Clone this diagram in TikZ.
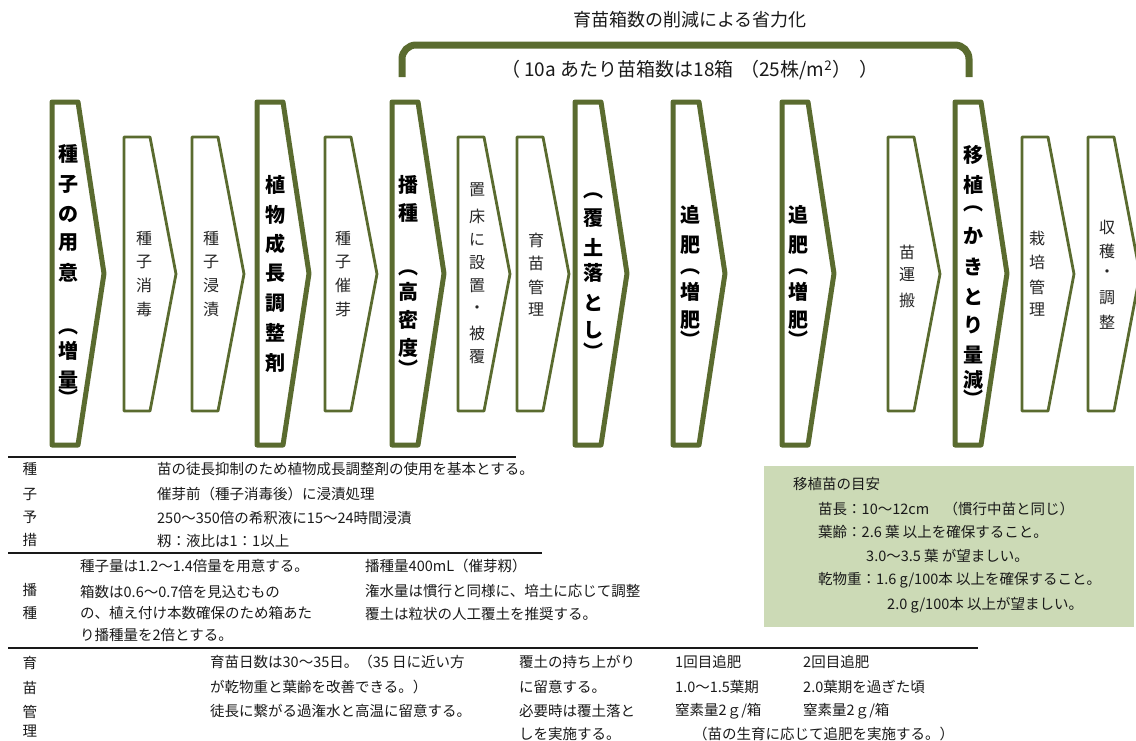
\documentclass[tikz,border=0pt]{standalone}
\usepackage{fontspec}
\setmainfont{Noto Sans CJK JP}
\definecolor{olv}{RGB}{90,107,47}
\definecolor{sage}{RGB}{204,218,182}
\tikzset{
  bigchev/.style={draw=olv, line width=5pt, line join=round, fill=white},
  thinchev/.style={draw=olv, line width=2.8pt, line join=round, fill=white},
  bigch/.style={font=\fontsize{20}{20}\selectfont\bfseries, inner sep=0pt, text=black},
  thinch/.style={font=\fontsize{16}{16}\selectfont, inner sep=0pt, text=black!85},
  tbl/.style={font=\fontsize{14.5}{14.5}\selectfont, inner sep=0pt, anchor=west, text=black!90},
  lbl/.style={font=\fontsize{14.5}{14.5}\selectfont, inner sep=0pt, text=black!90},
  tblrule/.style={line width=2.2pt, draw=black!90},
  bracketline/.style={draw=olv, line width=7pt, rounded corners=14pt},
  titletext/.style={font=\fontsize{18}{18}\selectfont, inner sep=0pt, text=black!90},
  greenbox/.style={fill=sage, draw=none},
}
\newcommand{\chevron}[4]{%
  \path[#1] (#2,#3) -- ({#2+26},#3) -- ({#2+52},{(#3+#4)/2}) -- ({#2+26},#4) -- (#2,#4) -- cycle;}
\newcommand{\vstack}[4]{%
  \foreach \vchar/\yy [count=\i] in {#4} {\node[#1] (#3-\i) at (#2,\yy) {\vchar};}}
\begin{document}
\begin{tikzpicture}[x=1pt,y=-1pt]
\useasboundingbox (0,0) rectangle (1136,740);

% title and bracket
\node[titletext] (title) at (690,20) {育苗箱数の削減による省力化};
\draw[bracketline] (402,77) -- (402,45) -- (969,45) -- (969,77);
\node[titletext, font=\fontsize{19}{19}\selectfont] (subtitle) at (690,70) {（ 10a あたり苗箱数は18箱\hspace{0.35em}（25株/m\textsuperscript{2}）\hspace{0.45em}）};

% chevrons
\chevron{bigchev}{52}{102}{445}
\chevron{thinchev}{124}{137}{411}
\chevron{thinchev}{192}{137}{411}
\chevron{bigchev}{257}{102}{445}
\chevron{thinchev}{325}{137}{411}
\chevron{bigchev}{392}{102}{445}
\chevron{thinchev}{458}{137}{411}
\chevron{thinchev}{517}{137}{411}
\chevron{bigchev}{575}{102}{445}
\chevron{bigchev}{673}{102}{445}
\chevron{bigchev}{782}{102}{445}
\chevron{thinchev}{888}{137}{411}
\chevron{bigchev}{955}{102}{445}
\chevron{thinchev}{1022}{137}{411}
\chevron{thinchev}{1088}{137}{411}

% chevron texts
\vstack{bigch}{68}{c1}{種/154,子/184,の/214,用/243,意/273,︵/332,増/351,量/380,︶/397}
\vstack{thinch}{144}{c2}{種/238,子/262,消/285,毒/309}
\vstack{thinch}{211}{c3}{種/238,子/262,浸/285,漬/309}
\vstack{bigch}{275}{c4}{植/185,物/215,成/244,長/273,調/303,整/333,剤/363}
\vstack{thinch}{343}{c5}{種/238,子/262,催/285,芽/309}
\vstack{bigch}{408}{c6}{播/185,種/213,︵/273,高/292,密/320,度/348,︶/368}
\vstack{thinch}{477}{c7}{置/190,床/216,に/240,設/263,置/286,・/310,被/333,覆/357}
\vstack{thinch}{536}{c8}{育/240,苗/263,管/287,理/310}
\vstack{bigch}{593}{c9}{︵/196,覆/218,土/247,落/273,と/303,し/330,︶/351}
\vstack{bigch}{690}{c10}{追/215,肥/245,︵/272,増/292,肥/320,︶/339}
\vstack{bigch}{798}{c11}{追/215,肥/245,︵/272,増/292,肥/320,︶/339}
\vstack{thinch}{907}{c12}{苗/252,運/275,搬/300}
\vstack{bigch}{973}{c13}{移/155,植/185,︵/209,か/236,き/267,と/297,り/325,量/355,減/380,︶/398}
\vstack{thinch}{1037}{c14}{栽/238,培/262,管/287,理/310}
\vstack{thinch}{1107}{c15}{収/227,穫/251,・/274,調/298,整/322}

% green box
\path[greenbox] (764,466) rectangle (1134,627);
\node[tbl] (g1) at (793,484) {移植苗の目安};
\node[tbl] (g2) at (818,509) {苗長：10～12cm　（慣行中苗と同じ）};
\node[tbl] (g3) at (818,532) {葉齢：2.6 葉 以上を確保すること。};
\node[tbl] (g4) at (866,556) {3.0～3.5 葉 が望ましい。};
\node[tbl] (g5) at (818,580) {乾物重：1.6 g/100本 以上を確保すること。};
\node[tbl] (g6) at (887,605) {2.0 g/100本 以上が望ましい。};

% table rules
\draw[tblrule] (8,457) -- (516,457);
\draw[tblrule] (8,553) -- (542,553);
\draw[tblrule] (8,648) -- (978,648);

% row 1
\vstack{lbl}{30}{r1}{種/469,子/494,予/517,措/540}
\node[tbl] (t11) at (157,469) {苗の徒長抑制のため植物成長調整剤の使用を基本とする。};
\node[tbl] (t12) at (157,494) {催芽前（種子消毒後）に浸漬処理};
\node[tbl] (t13) at (157,518) {250～350倍の希釈液に15～24時間浸漬};
\node[tbl] (t14) at (157,541) {籾：液比は1：1以上};

% row 2
\vstack{lbl}{30}{r2}{播/590,種/613}
\node[tbl] (t21) at (80,566) {種子量は1.2～1.4倍量を用意する。};
\node[tbl] (t22) at (80,592) {箱数は0.6～0.7倍を見込むもの};
\node[tbl] (t23) at (80,613) {の、植え付け本数確保のため箱あた};
\node[tbl] (t24) at (80,635) {り播種量を2倍とする。};
\node[tbl] (t25) at (365,566) {播種量400mL（催芽籾）};
\node[tbl] (t26) at (365,591) {潅水量は慣行と同様に、培土に応じて調整};
\node[tbl] (t27) at (365,614) {覆土は粒状の人工覆土を推奨する。};

% row 3
\vstack{lbl}{30}{r3}{育/663,苗/688,管/712,理/731}
\node[tbl] (t31) at (210,662) {育苗日数は30～35日。（35 日に近い方};
\node[tbl] (t32) at (210,687) {が乾物重と葉齢を改善できる。）};
\node[tbl] (t33) at (210,711) {徒長に繋がる過潅水と高温に留意する。};
\node[tbl] (t34) at (519,662) {覆土の持ち上がり};
\node[tbl] (t35) at (519,687) {に留意する。};
\node[tbl] (t36) at (519,711) {必要時は覆土落と};
\node[tbl] (t37) at (519,734) {しを実施する。};
\node[tbl] (t38) at (675,662) {1回目追肥};
\node[tbl] (t39) at (675,687) {1.0～1.5葉期};
\node[tbl] (t40) at (675,711) {窒素量2ｇ/箱};
\node[tbl] (t41) at (803,662) {2回目追肥};
\node[tbl] (t42) at (803,687) {2.0葉期を過ぎた頃};
\node[tbl] (t43) at (803,711) {窒素量2ｇ/箱};
\node[tbl] (t44) at (693,734) {（苗の生育に応じて追肥を実施する。）};
\end{tikzpicture}
\end{document}
